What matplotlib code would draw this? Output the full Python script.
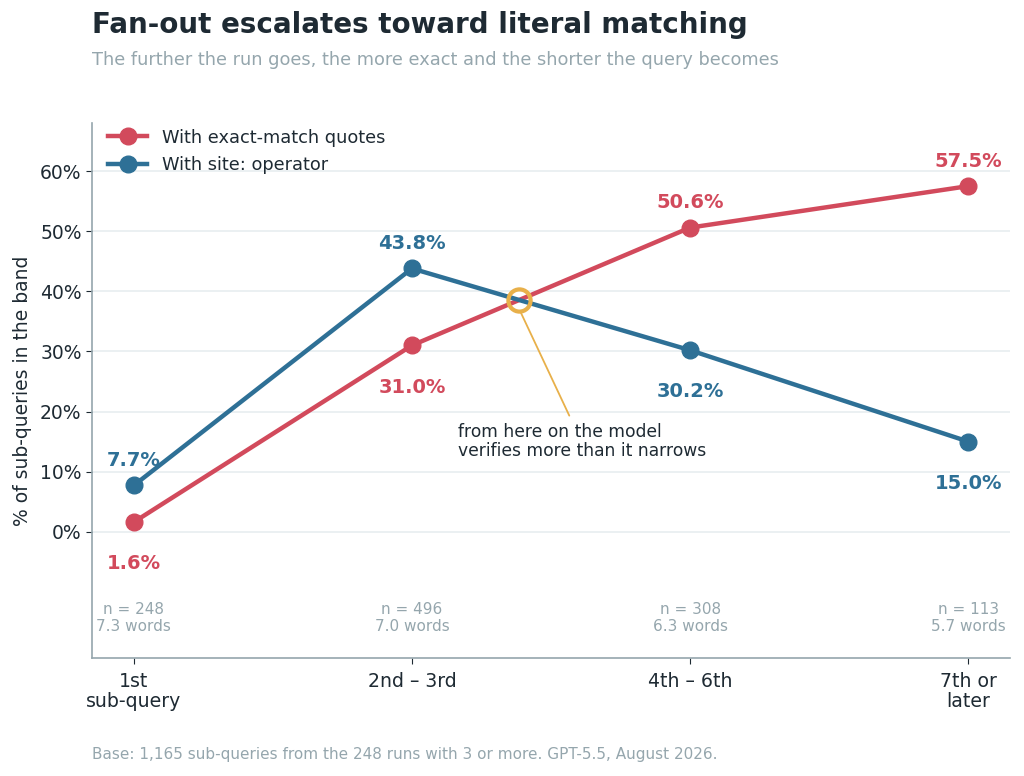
import numpy as np
import matplotlib
matplotlib.use("Agg")
import matplotlib.pyplot as plt

bands = ["1st\nsub-query", "2nd – 3rd", "4th – 6th", "7th or\nlater"]
exact_quotes = [1.6, 31.0, 50.6, 57.5]
site_operator = [7.7, 43.8, 30.2, 15.0]
n_runs = [248, 496, 308, 113]
avg_words = [7.3, 7.0, 6.3, 5.7]

RED = "#d24a5c"
BLUE = "#2e7096"
GOLD = "#e8b04a"
DARK = "#1e2a33"
GRAY = "#95a6ad"

plt.rcParams['font.family'] = ['DejaVu Sans']

fig = plt.figure(figsize=(10.24, 7.76), dpi=100)
ax = fig.add_axes([92/1024, 1 - 658/776, (1010-92)/1024, (658-123)/776])

x = np.arange(len(bands))
ax.plot(x, exact_quotes, color=RED, lw=3.2, marker="o", ms=12, label="With exact-match quotes", zorder=3)
ax.plot(x, site_operator, color=BLUE, lw=3.2, marker="o", ms=12, label="With site: operator", zorder=3)

# value labels: above for the higher series, below for the lower one
for i in range(len(bands)):
    r, b = exact_quotes[i], site_operator[i]
    r_off = 18 if r > b else -30
    b_off = 18 if b > r else -30
    ax.annotate(f"{r:.1f}%", (x[i], r), xytext=(0, r_off), textcoords="offset points",
                ha="center", va="center", color=RED, fontsize=14, fontweight="bold")
    ax.annotate(f"{b:.1f}%", (x[i], b), xytext=(0, b_off), textcoords="offset points",
                ha="center", va="center", color=BLUE, fontsize=14, fontweight="bold")
    ax.text(x[i], -14.3, f"n = {n_runs[i]}\n{avg_words[i]:.1f} words", ha="center", va="center",
            color=GRAY, fontsize=11, linespacing=1.15)

# crossing point between band 2 and 3
d0 = exact_quotes[1] - site_operator[1]
d1 = exact_quotes[2] - site_operator[2]
t = -d0 / (d1 - d0)
cx = x[1] + t
cy = exact_quotes[1] + t * (exact_quotes[2] - exact_quotes[1])
ax.plot(cx, cy, marker="o", ms=16, mfc="none", mec=GOLD, mew=3, zorder=4)
ax.annotate("", xy=(cx, cy - 1.5), xytext=(1.57, 18.9),
            arrowprops=dict(arrowstyle="-", color=GOLD, lw=1.3))
ax.text(1.167, 18.1, "from here on the model\nverifies more than it narrows", ha="left", va="top",
        color=DARK, fontsize=12.3, linespacing=1.1)

ax.set_xlim(-0.15, 3.15)
ax.set_ylim(-21, 68)
ax.set_xticks(x)
ax.set_xticklabels(bands, fontsize=13.6, color=DARK, linespacing=1.1)
ax.set_yticks(range(0, 61, 10))
ax.set_yticklabels([f"{v}%" for v in range(0, 61, 10)], fontsize=13.5, color=DARK)
ax.set_ylabel("% of sub-queries in the band", fontsize=13.5, color=DARK, labelpad=6)
ax.grid(axis="y", color="#e8edf0", lw=1.2, zorder=0)
ax.tick_params(axis="both", color=DARK, length=4)
ax.tick_params(axis="x", pad=6)
for s in ["top", "right"]:
    ax.spines[s].set_visible(False)
for s in ["left", "bottom"]:
    ax.spines[s].set_color(GRAY)
    ax.spines[s].set_linewidth(1.2)

leg = ax.legend(loc="upper left", bbox_to_anchor=(0.01, 1.003), frameon=False, fontsize=12.8,
                handlelength=2.2, borderaxespad=0.0, labelspacing=0.55)
for txt in leg.get_texts():
    txt.set_color(DARK)

fig.text(92/1024, 1 - 25/776, "Fan-out escalates toward literal matching", fontsize=20,
         fontweight="bold", color=DARK, va="center", ha="left")
fig.text(92/1024, 1 - 60/776, "The further the run goes, the more exact and the shorter the query becomes",
         fontsize=12.8, color=GRAY, va="center", ha="left")
fig.text(92/1024, 1 - 755/776, "Base: 1,165 sub-queries from the 248 runs with 3 or more. GPT-5.5, August 2026.",
         fontsize=11, color=GRAY, va="center", ha="left")

fig.savefig("out.png", dpi=100)
